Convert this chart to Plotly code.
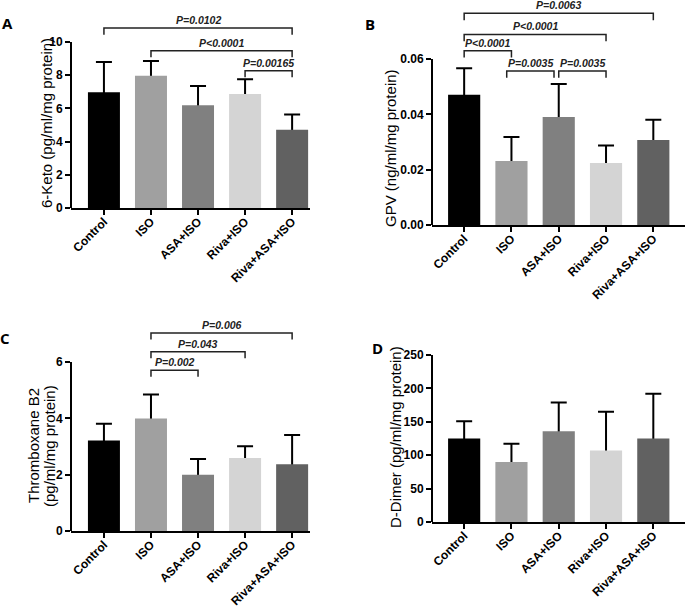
"""
Four-panel bar chart: 6-Keto, GPV, Thromboxane B2 and D-Dimer by group
"""

import plotly.graph_objects as go

W, H = 685, 608

groups = ["Control", "ISO", "ASA+ISO", "Riva+ISO", "Riva+ASA+ISO"]
bar_colors = ["#000000", "#a0a0a0", "#808080", "#d4d4d4", "#616161"]

keto_mean = [6.97, 7.97, 6.19, 6.87, 4.72]
keto_sd = [1.83, 0.89, 1.16, 0.88, 0.92]
keto_ticks = [0, 2, 4, 6, 8, 10]
keto_ticktext = ["0", "2", "4", "6", "8", "10"]

gpv_mean = [0.0471, 0.0231, 0.0390, 0.0224, 0.0307]
gpv_sd = [0.0096, 0.0087, 0.0120, 0.0063, 0.0073]
gpv_ticks = [0, 0.02, 0.04, 0.06]
gpv_ticktext = ["0.00", "0.02", "0.04", "0.06"]

txb2_mean = [3.21, 3.99, 2.00, 2.59, 2.37]
txb2_sd = [0.60, 0.86, 0.56, 0.42, 1.04]
txb2_ticks = [0, 2, 4, 6]
txb2_ticktext = ["0", "2", "4", "6"]

ddimer_mean = [125, 90, 136, 107, 125]
ddimer_sd = [26, 27, 43, 58, 67]
ddimer_ticks = [0, 50, 100, 150, 200, 250]
ddimer_ticktext = ["0", "50", "100", "150", "200", "250"]

# significance brackets: (left group, right group, height, label)
keto_pvals = [(0, 4, 10.84, "P=0.0102"), (1, 4, 9.48, "P<0.0001"),
              (3, 4, 8.27, "P=0.00165")]
gpv_pvals = [(0, 4, 0.0765, "P=0.0063"), (0, 3, 0.0689, "P<0.0001"),
             (0, 1, 0.0630, "P<0.0001"), (0.9, 1.9, 0.0557, "P=0.0035"),
             (2, 3, 0.0557, "P=0.0035")]
txb2_pvals = [(1, 4, 7.03, "P=0.006"), (1, 3, 6.36, "P=0.043"),
              (1, 2, 5.71, "P=0.002")]
ddimer_pvals = []

FONT = "Liberation Sans, Arial, sans-serif"

# pixel frame of each panel: left, right, y=0 line, top tick, top of plot area
panels = [
    dict(letter="A", mean=keto_mean, sd=keto_sd, ticks=keto_ticks, ticktext=keto_ticktext,
         pvals=keto_pvals, drop=0.4, frame=(71, 310, 208, 42, 10), xrange=[-0.70, 4.38],
         title=["6-Keto (pg/ml/mg protein)"], title_x=[47], title_y=123, letter_xy=(7, 23)),
    dict(letter="B", mean=gpv_mean, sd=gpv_sd, ticks=gpv_ticks, ticktext=gpv_ticktext,
         pvals=gpv_pvals, drop=0.0025, frame=(432, 685, 225, 59, 0), xrange=[-0.68, 4.67],
         title=["GPV (ng/ml/mg protein)"], title_x=[390], title_y=148, letter_xy=(370, 24)),
    dict(letter="C", mean=txb2_mean, sd=txb2_sd, ticks=txb2_ticks, ticktext=txb2_ticktext,
         pvals=txb2_pvals, drop=0.23, frame=(71, 310, 531, 362, 320), xrange=[-0.70, 4.38],
         title=["Thromboxane B2", "(pg/ml/mg protein)"], title_x=[33, 49], title_y=446,
         letter_xy=(5, 338)),
    dict(letter="D", mean=ddimer_mean, sd=ddimer_sd, ticks=ddimer_ticks, ticktext=ddimer_ticktext,
         pvals=ddimer_pvals, drop=0, frame=(432, 685, 522, 355, 345), xrange=[-0.68, 4.67],
         title=["D-Dimer (pg/ml/mg protein)"], title_x=[395], title_y=437, letter_xy=(377, 348)),
]

fig = go.Figure()
layout = {}
shapes = []
annotations = []
xs = list(range(len(groups)))

for n, p in enumerate(panels, start=1):
    sfx = "" if n == 1 else str(n)
    xref, yref = "x" + sfx, "y" + sfx
    left, right, base, tick_px, top_px = p["frame"]
    top_tick = p["ticks"][-1]
    ymax = top_tick * (base - top_px) / (base - tick_px)

    # error bars sit under the bars so only the upper half shows
    fig.add_trace(go.Bar(
        x=xs, y=p["mean"], width=0.68, marker=dict(color="rgba(0,0,0,0)", line_width=0),
        error_y=dict(type="data", array=p["sd"], symmetric=True, color="black",
                     thickness=2, width=8),
        xaxis=xref, yaxis=yref, showlegend=False, hoverinfo="skip"
    ))
    fig.add_trace(go.Bar(
        x=xs, y=p["mean"], width=0.68, marker=dict(color=bar_colors, line_width=0),
        xaxis=xref, yaxis=yref, showlegend=False
    ))

    layout["xaxis" + sfx] = dict(
        domain=[left / W, right / W], range=p["xrange"], anchor=yref, automargin=False,
        tickvals=xs, ticktext=groups, tickangle=-45, ticklabelstandoff=-5,
        showline=True, linecolor="black", linewidth=2,
        ticks="outside", ticklen=5, tickwidth=2, tickcolor="black",
        tickfont=dict(family=FONT, size=12, color="black", weight="bold"),
        showgrid=False, zeroline=False, fixedrange=True
    )
    layout["yaxis" + sfx] = dict(
        domain=[1 - base / H, 1 - top_px / H], range=[0, ymax], anchor=xref, automargin=False,
        tickvals=p["ticks"], ticktext=p["ticktext"],
        showline=False, ticks="outside", ticklen=5, tickwidth=2, tickcolor="black",
        tickfont=dict(family=FONT, size=12, color="black", weight="bold"),
        showgrid=False, zeroline=False, fixedrange=True
    )

    # y axis line stops at the top tick
    shapes.append(dict(type="line", xref=xref + " domain", yref=yref,
                       x0=0, x1=0, y0=0, y1=top_tick,
                       line=dict(color="black", width=2)))

    for l, r, h, label in p["pvals"]:
        d = p["drop"]
        shapes.append(dict(type="path", xref=xref, yref=yref,
                           path=f"M {l},{h - d} L {l},{h} L {r},{h} L {r},{h - d}",
                           line=dict(color="#222222", width=1.5)))
        annotations.append(dict(x=(l + r) / 2, y=h, xref=xref, yref=yref, text=label,
                                showarrow=False, yanchor="bottom",
                                font=dict(family=FONT, size=10.5, color="#222222",
                                          weight="bold", style="italic")))

    for tx, line in zip(p["title_x"], p["title"]):
        annotations.append(dict(x=tx / W, y=1 - p["title_y"] / H, xref="paper", yref="paper",
                                text=line, showarrow=False, textangle=-90,
                                xanchor="center", yanchor="middle",
                                font=dict(family=FONT, size=15, color="black")))

    lx, ly = p["letter_xy"]
    annotations.append(dict(x=lx / W, y=1 - ly / H, xref="paper", yref="paper",
                            text=p["letter"], showarrow=False,
                            xanchor="center", yanchor="middle",
                            font=dict(family="Open Sans, sans-serif", size=15,
                                      color="black", weight="bold")))

fig.update_layout(
    template="none",
    width=W, height=H, margin=dict(l=0, r=0, t=0, b=0),
    paper_bgcolor="white", plot_bgcolor="white",
    barmode="overlay", showlegend=False,
    shapes=shapes, annotations=annotations,
    **layout
)

# drop the page's default body margin so the figure sits at the window corner
fig.write_html("out.html", config={"displayModeBar": False},
               post_script="document.body.style.margin = '0';")
